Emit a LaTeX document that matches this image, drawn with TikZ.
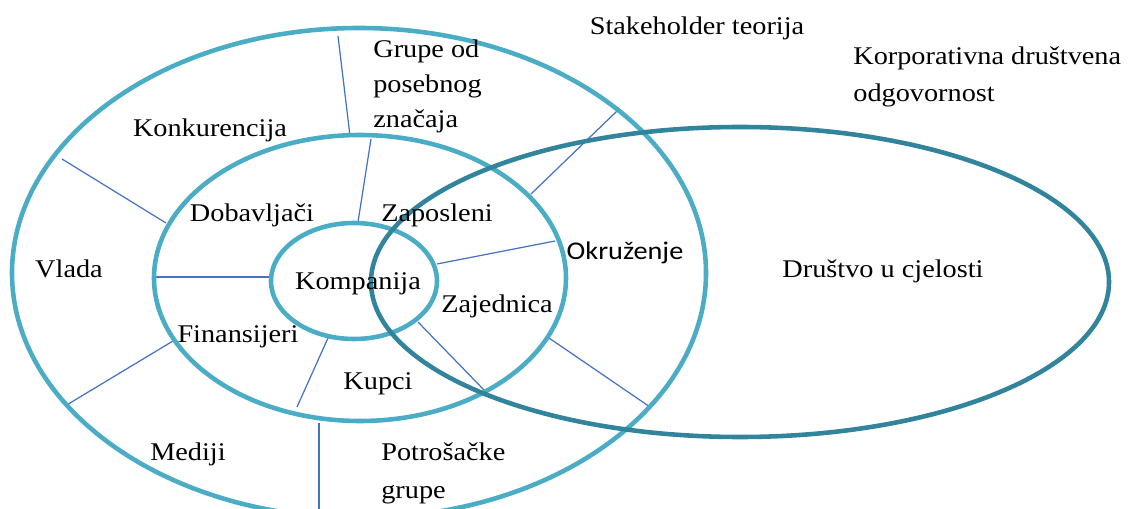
\documentclass[tikz,border=0pt]{standalone}
\usepackage{fontspec}
\setmainfont{Liberation Serif}[FakeStretch=1.11]
\newfontfamily\calibrifont{Carlito}[FakeStretch=1.11]
\definecolor{ringblue}{HTML}{4BACC6}
\definecolor{ringdark}{HTML}{31849B}
\definecolor{spokeblue}{HTML}{4472C4}

\begin{document}
\begin{tikzpicture}[x=0.02cm, y=-0.02cm]
% Define styles
\tikzstyle{ring} = [draw=ringblue, line width=2.6pt]
\tikzstyle{society} = [draw=ringdark, line width=2.6pt]
\tikzstyle{spoke} = [draw=spokeblue, line width=0.7pt]
\tikzstyle{txt} = [inner sep=0pt, align=left, font=\fontsize{14.5}{21.5}\selectfont]
    \useasboundingbox (0,0) rectangle (1131,509);
    % Spokes between the rings
    \path [spoke] (338,36) -- (350,136);
    \path [spoke] (371,139) -- (358,222);
    \path [spoke] (62,159) -- (166,223);
    \path [spoke] (156,277) -- (270,277);
    \path [spoke] (173,341) -- (65,406);
    \path [spoke] (328,338) -- (297,407);
    \path [spoke] (319,423) -- (319,509);
    \path [spoke] (418,322) -- (484,390);
    \path [spoke] (437,264) -- (555,241);
    \path [spoke] (531,194) -- (617,111);
    \path [spoke] (549,338) -- (650,407);
    % Rings
    \path [ring] (359,273) ellipse [x radius=347, y radius=245];
    \path [ring] (360,278) ellipse [x radius=206, y radius=143];
    \path [ring] (354,281) ellipse [x radius=83, y radius=58];
    \path [society] (740,282) ellipse [x radius=369, y radius=155];
    % Place labels (base of a multi-line label = its last line)
    \node [txt, anchor=base] (stakeholder) at (697,35) {Stakeholder teorija};
    \node [txt, anchor=base west] (kdo) at (853,102) {Korporativna društvena\\odgovornost};
    \node [txt, anchor=base west, font=\fontsize{14.5}{20}\selectfont] (grupe) at (373,128) {Grupe od\\posebnog\\značaja};
    \node [txt, anchor=base] (konkurencija) at (210,137) {Konkurencija};
    \node [txt, anchor=base] (dobavljaci) at (252,222) {Dobavljači};
    \node [txt, anchor=base] (zaposleni) at (437,222) {Zaposleni};
    \node [txt, anchor=base] (vlada) at (69,278) {Vlada};
    \node [txt, anchor=base] (kompanija) at (358,290) {Kompanija};
    \node [txt, anchor=base, font=\fontsize{14.5}{21.5}\calibrifont] (okruzenje) at (625,260) {Okruženje};
    \node [txt, anchor=base] (zajednica) at (497,313) {Zajednica};
    \node [txt, anchor=base] (finansijeri) at (238,343) {Finansijeri};
    \node [txt, anchor=base] (kupci) at (378,389) {Kupci};
    \node [txt, anchor=base] (mediji) at (188,460) {Mediji};
    \node [txt, anchor=base west] (potrosacke) at (381,498) {Potrošačke\\grupe};
    \node [txt, anchor=base] (drustvo) at (883,278) {Društvo u cjelosti};
\end{tikzpicture}
\end{document}
